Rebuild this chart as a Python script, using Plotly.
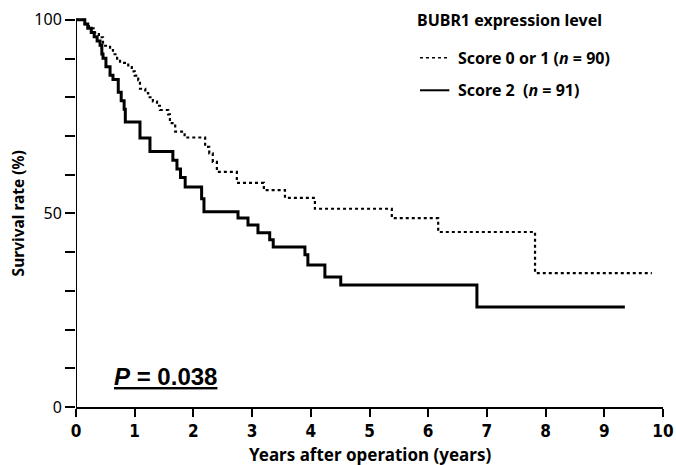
import plotly.graph_objects as go

# Score 0 or 1 (dotted) Kaplan-Meier steps: (time in years, survival %)
low_times = [0, 0.15, 0.22, 0.30, 0.39, 0.46, 0.58, 0.63, 0.70, 0.75, 0.89, 0.95, 1.00, 1.06, 1.09,
             1.18, 1.23, 1.31, 1.38, 1.43, 1.57, 1.60, 1.69, 1.85, 2.20, 2.27, 2.33, 2.40, 2.74,
             3.20, 3.56, 4.07, 5.38, 6.17, 7.82, 9.81]
low_surv = [100, 98.9, 97.8, 96.7, 95.5, 93.3, 92.2, 91.1, 90.0, 88.9, 87.8, 86.7, 85.6, 84.4, 82.2,
            81.1, 80.0, 78.9, 77.8, 76.7, 75.6, 73.3, 71.1, 69.6, 67.2, 65.5, 63.3, 60.7, 57.9,
            56.0, 54.0, 51.2, 48.8, 45.2, 34.6, 34.6]

# Score 2 (solid)
high_times = [0, 0.15, 0.20, 0.26, 0.31, 0.36, 0.41, 0.44, 0.46, 0.51, 0.58, 0.63, 0.72, 0.77, 0.82,
              0.84, 1.09, 1.26, 1.65, 1.72, 1.78, 1.86, 2.14, 2.18, 2.76, 2.93, 3.10, 3.30, 3.36,
              3.90, 3.95, 4.24, 4.51, 6.83, 9.35]
high_surv = [100, 98.9, 97.8, 96.7, 95.6, 94.5, 93.4, 91.2, 90.1, 87.9, 85.7, 84.6, 81.3, 79.1, 76.9,
             73.6, 69.5, 66.0, 63.7, 61.5, 59.3, 56.8, 53.8, 50.4, 48.8, 47.0, 45.0, 43.2, 41.3,
             39.3, 36.7, 33.6, 31.5, 25.8, 25.8]

x_ticks = list(range(0, 11))
y_ticks = list(range(0, 101, 10))
y_ticktext = ["0" if v == 0 else "50" if v == 50 else "100" if v == 100 else "" for v in y_ticks]

x_title = "Years after operation (years)"
y_title = "Survival rate (%)"
legend_title = "BUBR1 expression level"
legend_labels = ["Score 0 or 1 (<i>n</i> = 90)", "Score 2  (<i>n</i> = 91)"]
p_text = "<u><i>P</i> = 0.038</u>"

fig = go.Figure()
fig.add_trace(go.Scatter(x=low_times, y=low_surv, mode="lines", line_shape="hv",
                         line=dict(color="black", width=2.2, dash="dot"), showlegend=False))
fig.add_trace(go.Scatter(x=high_times, y=high_surv, mode="lines", line_shape="hv",
                         line=dict(color="black", width=3), showlegend=False))

bold_font = "Noto Sans"

fig.update_layout(
    width=676, height=465,
    margin=dict(l=76, r=13, t=14, b=58),
    plot_bgcolor="white", paper_bgcolor="white",
    xaxis=dict(range=[0, 10], tickvals=x_ticks, ticks="outside", ticklen=8, tickwidth=2,
               tickcolor="black", showline=True, linewidth=2, linecolor="black",
               showgrid=False, zeroline=False, automargin=False,
               tickfont=dict(family="Liberation Sans Narrow, DejaVu Sans Condensed", size=17,
                             color="black", weight="bold")),
    yaxis=dict(range=[0, 101.5], tickvals=y_ticks, ticktext=y_ticktext, ticks="outside",
               ticklen=10, tickwidth=2, tickcolor="black", showline=False,
               showgrid=False, zeroline=False, automargin=False,
               tickfont=dict(family=bold_font, size=16, color="black")),
)

# y axis line from 0 to 100
fig.add_shape(type="line", xref="x", yref="y", x0=0, x1=0, y0=0, y1=100,
              line=dict(color="black", width=2))

# Axis titles
fig.add_annotation(x=0.5, y=0, xref="paper", yref="paper", yshift=-47,
                   text="<b>" + x_title + "</b>", showarrow=False,
                   xanchor="center", yanchor="middle",
                   font=dict(family=bold_font, size=17, color="black"))
fig.add_annotation(x=0, y=50, xref="paper", yref="y", xshift=-58, textangle=-90,
                   text="<b>" + y_title + "</b>", showarrow=False,
                   xanchor="center", yanchor="middle",
                   font=dict(family=bold_font, size=15.5, color="black"))

# Legend
fig.add_annotation(x=5.78, y=100, xref="x", yref="y", text="<b>" + legend_title + "</b>",
                   showarrow=False, xanchor="left", yanchor="middle",
                   font=dict(family=bold_font, size=16, color="black"))
fig.add_shape(type="line", xref="x", yref="y", x0=5.86, x1=6.34, y0=90.2, y1=90.2,
              line=dict(color="black", width=1.6, dash="dot"))
fig.add_shape(type="line", xref="x", yref="y", x0=5.86, x1=6.36, y0=81.8, y1=81.8,
              line=dict(color="black", width=2))
fig.add_annotation(x=6.48, y=90.2, xref="x", yref="y", text="<b>" + legend_labels[0] + "</b>",
                   showarrow=False, xanchor="left", yanchor="middle",
                   font=dict(family=bold_font, size=16, color="black"))
fig.add_annotation(x=6.48, y=81.8, xref="x", yref="y", text="<b>" + legend_labels[1] + "</b>",
                   showarrow=False, xanchor="left", yanchor="middle",
                   font=dict(family=bold_font, size=16, color="black"))

fig.add_annotation(x=1.53, y=7.9, xref="x", yref="y", text="<b>" + p_text + "</b>",
                   showarrow=False, xanchor="center", yanchor="middle",
                   font=dict(family="Liberation Sans", size=24, color="black"))

fig.write_html("out.html", config={"displayModeBar": False},
               post_script="document.body.style.margin='0';document.body.style.overflow='hidden';")
